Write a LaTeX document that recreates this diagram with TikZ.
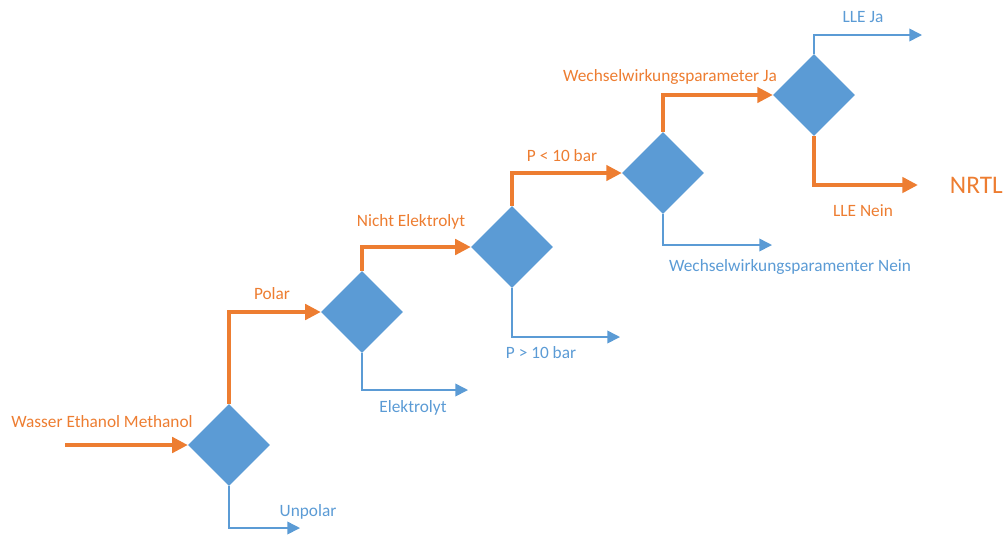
\documentclass[tikz,border=0pt]{standalone}
\usepackage{fontspec}
\setmainfont{Carlito}
\usetikzlibrary{shapes.geometric,arrows.meta}
\definecolor{flowblue}{HTML}{5B9BD5}
\definecolor{floworange}{HTML}{ED7D31}
\begin{document}
\begin{tikzpicture}
  [x=0.025cm,y=-0.025cm,
   every node/.style={font=\fontsize{12.3}{14}\selectfont},
   decision/.style={diamond,fill=flowblue,draw=none,inner sep=0,minimum size=2.05cm},
   yes/.style={floworange,line width=2.3pt,-{Triangle[length=11pt,width=11pt]}},
   no/.style={flowblue,line width=1.1pt,-{Triangle[length=9pt,width=9pt]}},
   yeslabel/.style={text=floworange},
   nolabel/.style={text=flowblue}]
  \useasboundingbox (0,0) rectangle (1003,542);

  \node[decision] (d1) at (229,445) {};
  \node[decision] (d2) at (362,312) {};
  \node[decision] (d3) at (512,247) {};
  \node[decision] (d4) at (663,173) {};
  \node[decision] (d5) at (814,95) {};

  \coordinate (start) at (65,445);
  \coordinate (unpolar) at (300,528);
  \coordinate (elektrolyt) at (468,390);
  \coordinate (pgross) at (620,337);
  \coordinate (wwnein) at (772,245);
  \coordinate (lleja) at (922,35);
  \node[yeslabel,anchor=west,font=\fontsize{18}{20}\selectfont] (nrtl) at (945,185) {NRTL};

  \draw[yes] (start) -- (d1.west);
  \draw[yes] (d1.north) |- (d2.west);
  \draw[yes] (d2.north) |- (d3.west);
  \draw[yes] (d3.north) |- (d4.west);
  \draw[yes] (d4.north) |- (d5.west);
  \draw[yes,shorten >=0.68cm] (d5.south) |- (nrtl.west);

  \draw[no] (d1.south) |- (unpolar);
  \draw[no] (d2.south) |- (elektrolyt);
  \draw[no] (d3.south) |- (pgross);
  \draw[no] (d4.south) |- (wwnein);
  \draw[no] (d5.north) |- (lleja);

  \node[yeslabel] (lwasser) at (102,422) {Wasser Ethanol Methanol};
  \node[yeslabel] (lpolar) at (272,294) {Polar};
  \node[yeslabel] (lnicht) at (411,222) {Nicht Elektrolyt};
  \node[yeslabel] (lpklein) at (562,156) {P < 10 bar};
  \node[yeslabel] (lwwja) at (670,77) {Wechselwirkungsparameter Ja};
  \node[yeslabel] (llenein) at (863,211) {LLE Nein};

  \node[nolabel] (lunpolar) at (308,512) {Unpolar};
  \node[nolabel] (lelektrolyt) at (413,408) {Elektrolyt};
  \node[nolabel] (lpgross) at (541,353) {P > 10 bar};
  \node[nolabel] (lwwnein) at (790,267) {Wechselwirkungsparamenter Nein};
  \node[nolabel] (llleja) at (863,17) {LLE Ja};
\end{tikzpicture}
\end{document}
